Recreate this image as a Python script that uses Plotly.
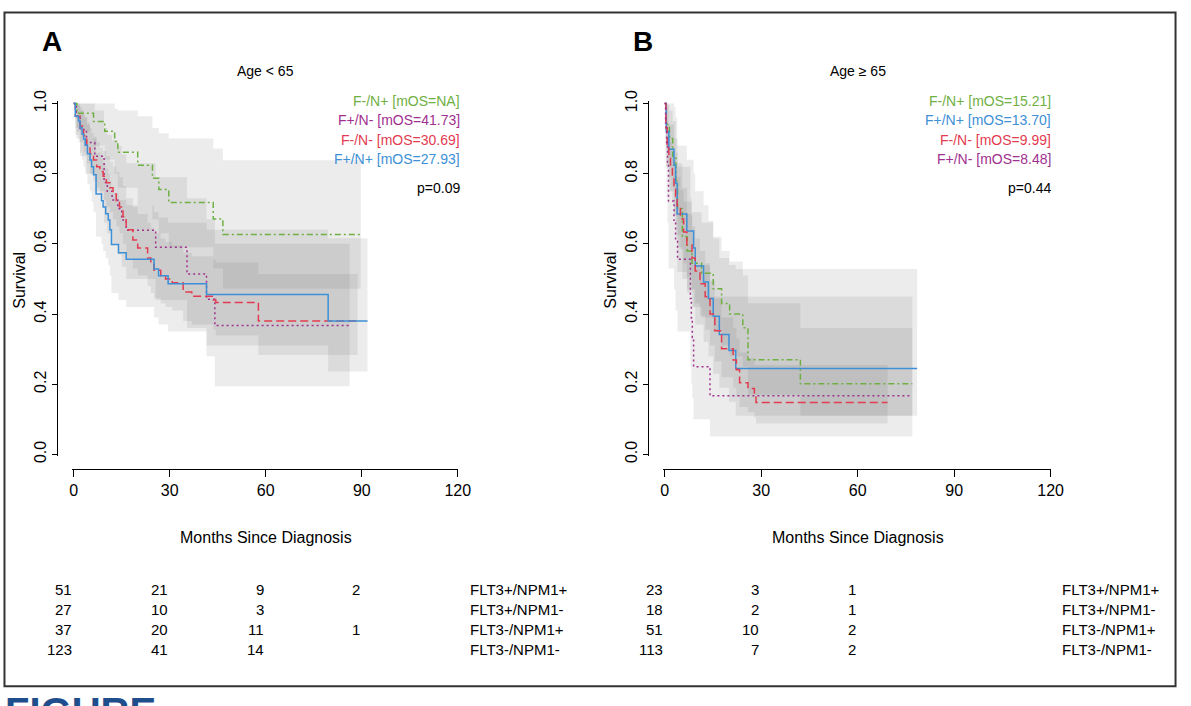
import plotly.graph_objects as go

W, H = 1191, 706
FONT = "Liberation Sans, Arial, Helvetica, sans-serif"

TIME_TICKS = [0, 30, 60, 90, 120]
SURV_TICKS = [0.0, 0.2, 0.4, 0.6, 0.8, 1.0]
TABLE_TIMES = [0, 30, 60, 90]
TABLE_ROWS = ["FLT3+/NPM1+", "FLT3+/NPM1-", "FLT3-/NPM1+", "FLT3-/NPM1-"]

# ---------------- panel A : age < 65 ----------------
a_fneg_npos_t = [0, 1.0, 6.2, 9.7, 12.8, 13.8, 20.0, 24.6, 26.6, 29.7, 43.6, 46.6, 89.7]
a_fneg_npos_s = [1.0, 0.972, 0.949, 0.921, 0.892, 0.861, 0.824, 0.787, 0.755, 0.718, 0.671, 0.627, 0.627]
a_fneg_npos_lo = [1.0, 0.92, 0.88, 0.84, 0.80, 0.76, 0.71, 0.67, 0.63, 0.59, 0.53, 0.472, 0.472]
a_fneg_npos_hi = [1.0, 1.0, 1.0, 1.0, 0.985, 0.98, 0.964, 0.93, 0.915, 0.90, 0.872, 0.838, 0.838]

a_fpos_nneg_t = [0, 0.8, 2.0, 4.0, 6.6, 9.5, 10.5, 12.0, 13.8, 15.0, 16.4, 25.6, 35.4, 41.5, 44.1, 86.2]
a_fpos_nneg_s = [1.0, 0.963, 0.926, 0.889, 0.850, 0.775, 0.750, 0.725, 0.700, 0.668, 0.639, 0.590, 0.514, 0.442, 0.367, 0.367]
a_fpos_nneg_lo = [1.0, 0.90, 0.85, 0.80, 0.75, 0.66, 0.63, 0.60, 0.57, 0.535, 0.50, 0.44, 0.36, 0.28, 0.194, 0.194]
a_fpos_nneg_hi = [1.0, 1.0, 1.0, 1.0, 0.98, 0.93, 0.91, 0.895, 0.88, 0.855, 0.83, 0.79, 0.73, 0.67, 0.60, 0.60]

a_fneg_nneg_t = [0, 0.5, 2.0, 3.1, 4.1, 5.1, 6.2, 7.2, 8.2, 9.2, 10.2, 11.3, 12.3, 13.3, 14.3, 15.4,
                 16.4, 18.5, 20.0, 23.1, 24.1, 25.1, 27.2, 28.7, 30.8, 34.2, 36.9, 43.6, 44.4, 57.7, 88.7]
a_fneg_nneg_s = [1.0, 0.964, 0.936, 0.908, 0.881, 0.857, 0.839, 0.820, 0.806, 0.793, 0.774, 0.760, 0.742, 0.723, 0.705, 0.677,
                 0.640, 0.611, 0.588, 0.560, 0.542, 0.525, 0.509, 0.500, 0.489, 0.463, 0.451, 0.440, 0.433, 0.380, 0.380]
a_fneg_nneg_lo = [1.0, 0.93, 0.89, 0.86, 0.83, 0.80, 0.78, 0.76, 0.74, 0.725, 0.705, 0.69, 0.67, 0.65, 0.63, 0.60,
                  0.56, 0.53, 0.51, 0.48, 0.46, 0.445, 0.43, 0.42, 0.41, 0.38, 0.37, 0.355, 0.339, 0.283, 0.283]
a_fneg_nneg_hi = [1.0, 0.995, 0.98, 0.96, 0.94, 0.92, 0.905, 0.89, 0.875, 0.865, 0.85, 0.835, 0.82, 0.805, 0.79, 0.765,
                  0.73, 0.705, 0.685, 0.66, 0.645, 0.63, 0.615, 0.605, 0.595, 0.575, 0.565, 0.555, 0.547, 0.514, 0.514]

a_fpos_npos_t = [0, 0.5, 1.5, 2.0, 2.6, 3.1, 3.6, 4.3, 5.1, 5.6, 6.2, 7.0, 8.7, 9.2, 10.0, 10.8, 11.3,
                 11.8, 14.0, 16.4, 25.1, 26.5, 29.5, 41.5, 79.5, 91.8]
a_fpos_npos_s = [1.0, 0.964, 0.95, 0.931, 0.913, 0.899, 0.881, 0.857, 0.839, 0.820, 0.797, 0.742, 0.723, 0.705, 0.686, 0.668, 0.640,
                 0.598, 0.575, 0.556, 0.528, 0.509, 0.486, 0.456, 0.380, 0.380]
a_fpos_npos_lo = [1.0, 0.91, 0.89, 0.86, 0.84, 0.82, 0.80, 0.77, 0.75, 0.72, 0.69, 0.62, 0.60, 0.58, 0.56, 0.54, 0.51,
                  0.46, 0.44, 0.42, 0.39, 0.37, 0.35, 0.31, 0.236, 0.236]
a_fpos_npos_hi = [1.0, 1.0, 1.0, 0.99, 0.98, 0.97, 0.96, 0.945, 0.93, 0.915, 0.90, 0.86, 0.845, 0.83, 0.815, 0.80, 0.78,
                  0.745, 0.725, 0.71, 0.69, 0.675, 0.66, 0.64, 0.616, 0.616]

a_mos = {"F-/N+": "NA", "F+/N-": "41.73", "F-/N-": "30.69", "F+/N+": "27.93"}
a_pvalue = "0.09"
a_at_risk = [[51, 21, 9, 2], [27, 10, 3, None], [37, 20, 11, 1], [123, 41, 14, None]]

# ---------------- panel B : age >= 65 ----------------
b_fneg_npos_t = [0, 0.5, 1.5, 2.5, 3.5, 4.0, 5.5, 7.0, 8.5, 11.5, 15.1, 17.7, 20.2, 24.3, 25.9, 42.2, 77.0]
b_fneg_npos_s = [1.0, 0.94, 0.90, 0.85, 0.78, 0.70, 0.62, 0.58, 0.545, 0.516, 0.472, 0.43, 0.40, 0.361, 0.270, 0.201, 0.201]
b_fneg_npos_lo = [1.0, 0.87, 0.82, 0.76, 0.68, 0.59, 0.50, 0.46, 0.42, 0.39, 0.35, 0.31, 0.28, 0.25, 0.17, 0.11, 0.11]
b_fneg_npos_hi = [1.0, 0.995, 0.98, 0.95, 0.90, 0.83, 0.76, 0.72, 0.69, 0.66, 0.62, 0.58, 0.55, 0.51, 0.431, 0.36, 0.36]

b_fpos_npos_t = [0, 0.5, 1.3, 2.9, 3.4, 3.9, 6.9, 9.0, 9.5, 12.1, 13.6, 15.1, 17.0, 20.0, 22.1, 78.5]
b_fpos_npos_s = [1.0, 0.921, 0.870, 0.824, 0.773, 0.685, 0.637, 0.588, 0.537, 0.491, 0.444, 0.394, 0.342, 0.296, 0.245, 0.245]
b_fpos_npos_lo = [1.0, 0.82, 0.75, 0.68, 0.62, 0.52, 0.47, 0.42, 0.37, 0.32, 0.28, 0.23, 0.19, 0.15, 0.11, 0.11]
b_fpos_npos_hi = [1.0, 1.0, 1.0, 0.99, 0.96, 0.88, 0.84, 0.80, 0.75, 0.71, 0.665, 0.615, 0.56, 0.54, 0.528, 0.528]

b_fneg_nneg_t = [0, 0.4, 0.8, 1.3, 1.8, 2.4, 2.9, 3.4, 3.9, 4.9, 5.9, 6.9, 8.5, 9.5, 11.0, 12.6, 14.1,
                 15.6, 17.7, 21.3, 22.3, 23.3, 25.9, 27.9, 28.4, 69.3]
b_fneg_nneg_s = [1.0, 0.93, 0.875, 0.85, 0.819, 0.79, 0.764, 0.735, 0.708, 0.671, 0.634, 0.597, 0.560, 0.523, 0.486, 0.449, 0.40,
                 0.352, 0.301, 0.269, 0.241, 0.204, 0.188, 0.167, 0.148, 0.148]
b_fneg_nneg_lo = [1.0, 0.88, 0.815, 0.785, 0.75, 0.715, 0.685, 0.655, 0.625, 0.585, 0.545, 0.505, 0.47, 0.43, 0.395, 0.355, 0.31,
                  0.265, 0.22, 0.19, 0.165, 0.135, 0.12, 0.105, 0.088, 0.088]
b_fneg_nneg_hi = [1.0, 0.975, 0.935, 0.915, 0.89, 0.865, 0.84, 0.815, 0.79, 0.755, 0.72, 0.685, 0.65, 0.615, 0.58, 0.545, 0.495,
                  0.445, 0.39, 0.36, 0.33, 0.29, 0.275, 0.255, 0.255, 0.255]

b_fpos_nneg_t = [0, 0.3, 0.6, 0.9, 1.2, 2.9, 3.4, 4.0, 8.0, 8.3, 8.6, 9.0, 14.1, 77.0]
b_fpos_nneg_s = [1.0, 0.944, 0.889, 0.833, 0.722, 0.667, 0.611, 0.556, 0.444, 0.389, 0.333, 0.25, 0.167, 0.167]
b_fpos_nneg_lo = [1.0, 0.82, 0.73, 0.66, 0.53, 0.47, 0.41, 0.35, 0.25, 0.20, 0.16, 0.10, 0.051, 0.051]
b_fpos_nneg_hi = [1.0, 1.0, 1.0, 1.0, 0.94, 0.90, 0.86, 0.82, 0.73, 0.68, 0.62, 0.54, 0.45, 0.45]

b_mos = {"F-/N+": "15.21", "F+/N+": "13.70", "F-/N-": "9.99", "F+/N-": "8.48"}
b_pvalue = "0.44"
b_at_risk = [[23, 3, 1, None], [18, 2, 1, None], [51, 10, 2, None], [113, 7, 2, None]]

# ---------------- styles ----------------
COLORS = {"F-/N+": "#6fb043", "F+/N-": "#a0308e", "F-/N-": "#e33b4f", "F+/N+": "#3d8fd6"}
DASHES = {"F-/N+": "6px,3px,2px,3px", "F+/N-": "2px,3px", "F-/N-": "8px,4px", "F+/N+": "solid"}
BAND = "rgba(110,110,110,0.13)"


def px(x):
    return x / W


def py(y):
    return 1 - y / H


def add_band(fig, t, lo, hi, xa, ya):
    fig.add_trace(go.Scatter(x=t, y=lo, mode="lines", line=dict(width=0, shape="hv"),
                             xaxis=xa, yaxis=ya, hoverinfo="skip", showlegend=False))
    fig.add_trace(go.Scatter(x=t, y=hi, mode="lines", line=dict(width=0, shape="hv"),
                             fill="tonexty", fillcolor=BAND,
                             xaxis=xa, yaxis=ya, hoverinfo="skip", showlegend=False))


def add_curve(fig, t, s, key, xa, ya):
    fig.add_trace(go.Scatter(x=t, y=s, mode="lines", name=key,
                             line=dict(color=COLORS[key], width=1.5, dash=DASHES[key], shape="hv"),
                             xaxis=xa, yaxis=ya, showlegend=False))


def text(txt, x, y, size=14, color="black", xanchor="center", yanchor="middle", xref="paper", **kw):
    return dict(text=txt, x=x, y=y, xref=xref, yref="paper", xanchor=xanchor, yanchor=yanchor,
                showarrow=False, font=dict(family=FONT, size=size, color=color), **kw)


panel_a = [
    ("F-/N+", a_fneg_npos_t, a_fneg_npos_s, a_fneg_npos_lo, a_fneg_npos_hi),
    ("F+/N-", a_fpos_nneg_t, a_fpos_nneg_s, a_fpos_nneg_lo, a_fpos_nneg_hi),
    ("F-/N-", a_fneg_nneg_t, a_fneg_nneg_s, a_fneg_nneg_lo, a_fneg_nneg_hi),
    ("F+/N+", a_fpos_npos_t, a_fpos_npos_s, a_fpos_npos_lo, a_fpos_npos_hi),
]
panel_b = [
    ("F-/N+", b_fneg_npos_t, b_fneg_npos_s, b_fneg_npos_lo, b_fneg_npos_hi),
    ("F+/N+", b_fpos_npos_t, b_fpos_npos_s, b_fpos_npos_lo, b_fpos_npos_hi),
    ("F-/N-", b_fneg_nneg_t, b_fneg_nneg_s, b_fneg_nneg_lo, b_fneg_nneg_hi),
    ("F+/N-", b_fpos_nneg_t, b_fpos_nneg_s, b_fpos_nneg_lo, b_fpos_nneg_hi),
]

fig = go.Figure()
for groups, xa, ya in [(panel_a, "x", "y"), (panel_b, "x2", "y2")]:
    for key, t, s, lo, hi in groups:
        add_band(fig, t, lo, hi, xa, ya)
    for key, t, s, lo, hi in groups:
        add_curve(fig, t, s, key, xa, ya)

# panel geometry (pixels)
panels = [
    dict(label="A", title="Age < 65", x0=69.7, x1=461.0, yline=55, mos=a_mos, p=a_pvalue,
         risk=a_at_risk, xa="x", legend_right=465, rowname_x=471, order=[g[0] for g in panel_a]),
    dict(label="B", title="Age \u2265 65", x0=668.7, x1=1061.9, yline=654, mos=b_mos, p=b_pvalue,
         risk=b_at_risk, xa="x2", legend_right=1064, rowname_x=1071, order=[g[0] for g in panel_b]),
]

y_dom = [py(456.4), py(92.8)]
axis_common = dict(showline=True, linecolor="black", linewidth=1.3, ticks="outside",
                   tickcolor="black", tickwidth=1.3, showgrid=False, zeroline=False,
                   tickfont=dict(family=FONT, size=16, color="black"))

layout_axes = {}
annotations = []
for i, p in enumerate(panels):
    sfx = "" if i == 0 else str(i + 1)
    layout_axes["xaxis" + sfx] = dict(axis_common, domain=[px(p["x0"]), px(p["x1"])], range=[-0.6, 120],
                                       anchor="free", position=py(470), tickvals=TIME_TICKS, ticklen=7)
    layout_axes["yaxis" + sfx] = dict(axis_common, domain=y_dom, range=[-0.004, 1.006],
                                       anchor="free", position=px(p["yline"]), tickvals=SURV_TICKS,
                                       ticktext=["%.1f" % v for v in SURV_TICKS], tickangle=-90, ticklen=5)
    xmid = (p["x0"] + 2 + p["x1"]) / 2

    annotations.append(text("<b>%s</b>" % p["label"], px(p["x0"] - 20), py(31), size=28))
    annotations.append(text(p["title"], px(xmid), py(62)))
    annotations.append(text("Survival", px(p["yline"] - 38), py(276), size=16, textangle=-90))
    annotations.append(text("Months Since Diagnosis", px(xmid), py(540), size=16))

    for j, key in enumerate(p["order"]):
        annotations.append(text("%s [mOS=%s]" % (key, p["mos"][key]), px(p["legend_right"]),
                                py(92 + 20 * j), color=COLORS[key], xanchor="right"))
    annotations.append(text("p=%s" % p["p"], px(p["legend_right"]), py(182), xanchor="right"))

    for r, (row_name, counts) in enumerate(zip(TABLE_ROWS, p["risk"])):
        yrow = py(594 + 20.5 * r)
        for tt, n in zip(TABLE_TIMES, counts):
            if n is None:
                continue
            annotations.append(text(str(n), tt, yrow, size=15, xanchor="right", xref=p["xa"]))
        annotations.append(text(row_name, px(p["rowname_x"]), yrow, size=15, xanchor="left"))

annotations.append(text("<b>FIGURE</b>", 0, py(695), size=40, color="#1f4e8c", xanchor="left", yanchor="top"))

fig.update_layout(
    width=W, height=H,
    margin=dict(l=0, r=0, t=0, b=0),
    paper_bgcolor="white", plot_bgcolor="white",
    showlegend=False,
    annotations=annotations,
    shapes=[dict(type="rect", xref="paper", yref="paper", x0=px(1.5), x1=px(1188.5), y0=py(693), y1=py(1.5),
                 line=dict(color="#333333", width=2), fillcolor="rgba(0,0,0,0)", layer="above")],
    **layout_axes,
)

page_fix = ("document.documentElement.style.margin='0px';document.body.style.margin='0px';"
            "document.documentElement.style.overflow='hidden';document.body.style.overflow='hidden';")
fig.write_html("out.html", config={"displayModeBar": False}, post_script=page_fix)
